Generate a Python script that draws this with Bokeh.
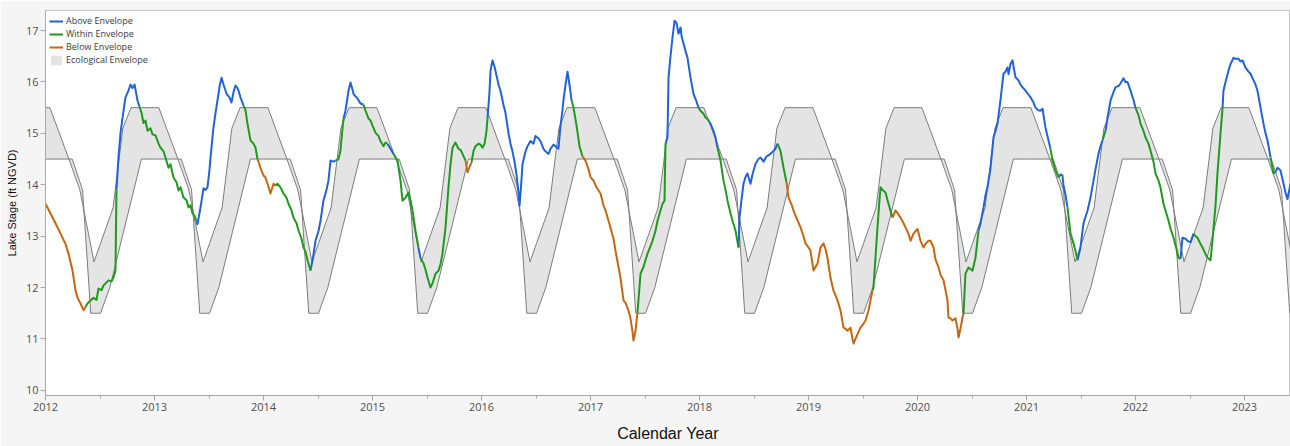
import math
import numpy as np
from bokeh.plotting import figure
from bokeh.models import FixedTicker, Range1d, Legend, LegendItem
from bokeh.embed import file_html
from bokeh.resources import INLINE

# ---------------- data ----------------
x_ticks = [2012, 2013, 2014, 2015, 2016, 2017, 2018, 2019, 2020, 2021, 2022, 2023]
y_ticks = [10, 11, 12, 13, 14, 15, 16, 17]

# Ecological envelope template: fraction of calendar year -> stage (ft NGVD)
env_upper_frac = [0.0, 0.04, 0.215, 0.315, 0.445, 0.62, 0.71, 0.785, 1.0]
env_upper_ft = [15.5, 15.5, 14.5, 13.9, 12.5, 13.55, 15.1, 15.5, 15.5]
env_lower_frac = [0.0, 0.245, 0.34, 0.415, 0.505, 0.59, 0.88, 1.0]
env_lower_ft = [14.5, 14.5, 13.9, 11.5, 11.5, 12.0, 14.5, 14.5]
env_years = list(range(2011, 2024))

# Lake stage (decimal year, ft NGVD) and status runs (A above, W within, B below)
t_2012 = [2012.000, 2012.046, 2012.092, 2012.138, 2012.183, 2012.211, 2012.248, 2012.275, 2012.294, 2012.321, 2012.349, 2012.367,
          2012.385, 2012.413, 2012.440, 2012.468, 2012.486, 2012.514, 2012.532, 2012.560, 2012.578, 2012.606, 2012.624, 2012.642, 2012.651,
          2012.670, 2012.688, 2012.716, 2012.734, 2012.761, 2012.780, 2012.798, 2012.817, 2012.844, 2012.862,
          2012.881, 2012.899, 2012.917, 2012.936, 2012.963, 2012.982]
v_2012 = [13.63, 13.44, 13.25, 13.05, 12.85, 12.66, 12.33, 11.94, 11.80, 11.69, 11.56, 11.62,
          11.69, 11.75, 11.80, 11.76, 11.98, 11.95, 12.04, 12.10, 12.14, 12.12, 12.20, 12.33, 13.90,
          14.55, 15.00, 15.44, 15.70, 15.83, 15.95, 15.88, 15.95, 15.64, 15.52,
          15.40, 15.20, 15.25, 15.05, 15.10, 14.98]
s_2012 = [("B", 12), ("W", 13), ("A", 10), ("W", 6)]

t_2013 = [2013.009, 2013.037, 2013.055, 2013.083, 2013.101, 2013.128, 2013.147, 2013.174, 2013.202, 2013.220, 2013.239, 2013.266,
          2013.294, 2013.312, 2013.330, 2013.349, 2013.367, 2013.385,
          2013.394, 2013.413, 2013.422, 2013.450, 2013.468, 2013.486, 2013.505, 2013.514, 2013.541, 2013.560, 2013.578, 2013.596,
          2013.615, 2013.633, 2013.661, 2013.688, 2013.706, 2013.725, 2013.743, 2013.761, 2013.771, 2013.789, 2013.817,
          2013.835, 2013.853, 2013.881, 2013.908, 2013.927, 2013.945, 2013.972]
v_2013 = [14.96, 14.80, 14.72, 14.65, 14.53, 14.33, 14.40, 14.14, 14.05, 13.89, 13.95, 13.75,
          13.70, 13.56, 13.60, 13.44, 13.40, 13.30,
          13.23, 13.45, 13.56, 13.93, 13.90, 13.95, 14.30, 14.53, 15.11, 15.40, 15.64, 15.90,
          16.08, 15.95, 15.77, 15.70, 15.60, 15.80, 15.93, 15.88, 15.83, 15.70, 15.54,
          15.45, 15.19, 14.86, 14.80, 14.72, 14.50, 14.33]
s_2013 = [("W", 18), ("A", 23), ("W", 6), ("B", 1)]

t_2014 = [2014.000, 2014.018, 2014.037, 2014.064, 2014.092, 2014.110,
          2014.128, 2014.156, 2014.183, 2014.211, 2014.229, 2014.257, 2014.275, 2014.303, 2014.321, 2014.349, 2014.367, 2014.385,
          2014.404, 2014.422, 2014.431,
          2014.450, 2014.477, 2014.505, 2014.523, 2014.550, 2014.578, 2014.596, 2014.615, 2014.642, 2014.661,
          2014.688, 2014.706, 2014.725, 2014.734,
          2014.752, 2014.771, 2014.780, 2014.798, 2014.817, 2014.826, 2014.844, 2014.862, 2014.890, 2014.917,
          2014.936, 2014.963, 2014.982]
v_2014 = [14.18, 14.14, 14.02, 13.83, 14.02, 13.98,
          14.02, 13.95, 13.83, 13.75, 13.63, 13.50, 13.36, 13.25, 13.11, 12.95, 12.78, 12.70, 12.53, 12.40, 12.33,
          12.53, 12.91, 13.10, 13.30, 13.69, 13.90, 14.08, 14.47, 14.45, 14.47,
          14.50, 14.66, 15.10, 15.29,
          15.44, 15.70, 15.83, 15.99, 15.85, 15.77, 15.72, 15.68, 15.58, 15.56,
          15.44, 15.29, 15.25]
s_2014 = [("B", 6), ("W", 15), ("A", 10), ("W", 4), ("A", 10), ("W", 3)]

t_2015 = [2015.000, 2015.028, 2015.055, 2015.073, 2015.101, 2015.119, 2015.138,
          2015.165, 2015.193,
          2015.229, 2015.257, 2015.275, 2015.303, 2015.330, 2015.349, 2015.367, 2015.394, 2015.422,
          2015.440,
          2015.468, 2015.486, 2015.505, 2015.532, 2015.550, 2015.578, 2015.606, 2015.624, 2015.642, 2015.670, 2015.697, 2015.716,
          2015.734, 2015.761, 2015.789, 2015.807, 2015.826, 2015.853,
          2015.872, 2015.890, 2015.908,
          2015.927, 2015.945, 2015.972, 2015.991]
v_2015 = [15.15, 15.01, 14.95, 14.85, 14.75, 14.82, 14.80,
          14.70, 14.60,
          14.47, 14.08, 13.69, 13.75, 13.85, 13.70, 13.50, 13.11, 12.78,
          12.58,
          12.47, 12.35, 12.19, 12.00, 12.08, 12.27, 12.33, 12.45, 12.66, 13.17, 13.95, 14.40,
          14.72, 14.82, 14.70, 14.68, 14.60, 14.47,
          14.24, 14.35, 14.43,
          14.66, 14.75, 14.80, 14.78]
s_2015 = [("W", 7), ("A", 2), ("W", 9), ("A", 1), ("W", 18), ("B", 3), ("W", 4)]

t_2016 = [2016.009, 2016.028, 2016.046, 2016.055,
          2016.073, 2016.083, 2016.101, 2016.119, 2016.138, 2016.156, 2016.174, 2016.202, 2016.220, 2016.248,
          2016.266, 2016.284, 2016.303, 2016.321, 2016.339, 2016.349, 2016.367, 2016.376, 2016.404, 2016.422,
          2016.450, 2016.477, 2016.495, 2016.523, 2016.541, 2016.569, 2016.587, 2016.615, 2016.633, 2016.661,
          2016.679, 2016.706, 2016.725, 2016.743, 2016.752, 2016.771, 2016.789, 2016.807, 2016.826,
          2016.844, 2016.872, 2016.899, 2016.927,
          2016.954, 2016.982]
v_2016 = [14.72, 14.80, 15.05, 15.29,
          15.80, 16.22, 16.42, 16.30, 16.12, 15.95, 15.83, 15.55, 15.40, 15.00,
          14.80, 14.65, 14.45, 14.20, 13.85, 13.60, 14.10, 14.40, 14.65, 14.75,
          14.85, 14.80, 14.95, 14.90, 14.85, 14.70, 14.65, 14.60, 14.70, 14.78,
          14.75, 14.70, 15.15, 15.45, 15.65, 15.95, 16.20, 15.95, 15.65,
          15.50, 15.15, 14.75, 14.55,
          14.47, 14.30]
s_2016 = [("W", 4), ("A", 39), ("W", 4), ("B", 2)]

t_2017 = [2017.000, 2017.028, 2017.055, 2017.092, 2017.119, 2017.138, 2017.165, 2017.183, 2017.211, 2017.229,
          2017.257, 2017.275, 2017.303, 2017.321, 2017.349, 2017.367, 2017.385, 2017.394, 2017.413, 2017.431,
          2017.459, 2017.486, 2017.523, 2017.550, 2017.569, 2017.596, 2017.615, 2017.642, 2017.661, 2017.679, 2017.688,
          2017.706, 2017.716, 2017.734, 2017.752, 2017.771, 2017.789, 2017.807, 2017.826, 2017.835, 2017.853,
          2017.872, 2017.890, 2017.917, 2017.945, 2017.972, 2017.991]
v_2017 = [14.15, 14.08, 13.95, 13.83, 13.60, 13.50, 13.30, 13.17, 12.95, 12.72,
          12.40, 12.19, 11.75, 11.70, 11.55, 11.40, 11.15, 10.97, 11.16, 11.51,
          12.27, 12.40, 12.66, 12.80, 12.91, 13.10, 13.30, 13.50, 13.63, 13.69, 14.80,
          14.92, 16.09, 16.50, 16.86, 17.19, 17.15, 16.94, 17.06, 16.90, 16.75,
          16.60, 16.47, 16.09, 15.77, 15.62, 15.50]
s_2017 = [("B", 20), ("W", 11), ("A", 16)]

t_2018 = [2018.009, 2018.037, 2018.055, 2018.083,
          2018.101, 2018.128, 2018.147, 2018.165,
          2018.193, 2018.220, 2018.239, 2018.257, 2018.284, 2018.303, 2018.330, 2018.358,
          2018.367, 2018.385, 2018.404, 2018.422, 2018.440, 2018.468, 2018.486, 2018.514, 2018.541, 2018.560,
          2018.587, 2018.615, 2018.633, 2018.661, 2018.679, 2018.697, 2018.716,
          2018.743, 2018.771, 2018.798,
          2018.817, 2018.844, 2018.862, 2018.890, 2018.927, 2018.954, 2018.972]
v_2018 = [15.44, 15.38, 15.31, 15.25,
          15.19, 15.05, 14.92, 14.72,
          14.47, 14.08, 13.90, 13.69, 13.45, 13.30, 13.11, 12.78,
          13.36, 13.70, 14.02, 14.15, 14.22, 14.02, 14.20, 14.41, 14.50, 14.53,
          14.45, 14.55, 14.57, 14.62, 14.66, 14.70, 14.80,
          14.66, 14.33, 14.05,
          13.75, 13.62, 13.50, 13.35, 13.17, 13.00, 12.86]
s_2018 = [("W", 4), ("A", 4), ("W", 8), ("A", 17), ("W", 3), ("B", 7)]

t_2019 = [2019.000, 2019.018, 2019.037, 2019.046, 2019.064, 2019.083, 2019.110, 2019.138, 2019.156, 2019.174,
          2019.202, 2019.229, 2019.248, 2019.266, 2019.294, 2019.321, 2019.339, 2019.358, 2019.385, 2019.404,
          2019.413, 2019.431, 2019.450, 2019.477, 2019.505, 2019.523, 2019.550, 2019.569, 2019.587,
          2019.596, 2019.615, 2019.633, 2019.651, 2019.661, 2019.679, 2019.706, 2019.734, 2019.752, 2019.771,
          2019.798, 2019.817, 2019.844, 2019.872, 2019.890, 2019.917, 2019.936, 2019.963, 2019.982]
v_2019 = [12.78, 12.72, 12.45, 12.33, 12.40, 12.47, 12.78, 12.86, 12.75, 12.58,
          12.19, 11.94, 11.85, 11.75, 11.55, 11.22, 11.20, 11.16, 11.22, 11.00,
          10.91, 11.00, 11.10, 11.22, 11.30, 11.36, 11.55, 11.75, 11.94,
          12.00, 12.60, 13.17, 13.70, 13.95, 13.90, 13.85, 13.63, 13.50, 13.36,
          13.50, 13.45, 13.36, 13.25, 13.17, 13.05, 12.91, 13.05, 13.10]
s_2019 = [("B", 29), ("W", 10), ("B", 9)]

t_2020 = [2020.000, 2020.028, 2020.055, 2020.073, 2020.101, 2020.119, 2020.147, 2020.165, 2020.193, 2020.211,
          2020.239, 2020.257, 2020.275, 2020.284, 2020.303, 2020.321, 2020.349, 2020.367, 2020.376, 2020.394,
          2020.413, 2020.422,
          2020.440, 2020.468, 2020.486, 2020.505, 2020.532, 2020.560,
          2020.578, 2020.606, 2020.624, 2020.642, 2020.670, 2020.697, 2020.716, 2020.734, 2020.761, 2020.789,
          2020.807, 2020.826, 2020.835, 2020.853, 2020.872, 2020.881, 2020.899, 2020.927, 2020.945, 2020.963,
          2020.991]
v_2020 = [13.14, 12.91, 12.78, 12.85, 12.91, 12.91, 12.78, 12.55, 12.39, 12.25,
          12.14, 11.95, 11.75, 11.42, 11.40, 11.36, 11.40, 11.20, 11.03, 11.20,
          11.42, 11.49,
          12.27, 12.39, 12.36, 12.33, 12.58, 13.11,
          13.25, 13.56, 13.80, 13.95, 14.33, 14.92, 15.05, 15.19, 15.64, 16.16,
          16.20, 16.28, 16.15, 16.35, 16.42, 16.30, 16.09, 16.03, 15.95, 15.90,
          15.83]
s_2020 = [("B", 22), ("W", 6), ("A", 21)]

t_2021 = [2021.009, 2021.037, 2021.064, 2021.083, 2021.110, 2021.128, 2021.147, 2021.174, 2021.202, 2021.220,
          2021.239, 2021.266, 2021.294,
          2021.312, 2021.330, 2021.339, 2021.358, 2021.376,
          2021.404, 2021.431, 2021.450, 2021.468,
          2021.495, 2021.523, 2021.560, 2021.587, 2021.615, 2021.633, 2021.661, 2021.679, 2021.697,
          2021.725,
          2021.743, 2021.771, 2021.798, 2021.817, 2021.844, 2021.862, 2021.890, 2021.908, 2021.927, 2021.954,
          2021.982]
v_2021 = [15.78, 15.70, 15.60, 15.50, 15.45, 15.44, 15.48, 15.11, 14.86, 14.70,
          14.47, 14.28, 14.14,
          14.20, 14.18, 13.99, 13.80, 13.56,
          13.05, 12.86, 12.70, 12.53,
          12.78, 13.25, 13.50, 13.75, 14.08, 14.30, 14.61, 14.75, 14.86,
          15.05,
          15.30, 15.64, 15.80, 15.90, 15.92, 15.97, 16.07, 16.00, 16.00, 15.83,
          15.65]
s_2021 = [("A", 10), ("W", 3), ("A", 5), ("W", 4), ("A", 9), ("W", 1), ("A", 11)]

t_2022 = [2022.000,
          2022.028, 2022.046, 2022.073, 2022.092, 2022.119, 2022.138, 2022.165, 2022.183, 2022.211, 2022.229,
          2022.257, 2022.275, 2022.303, 2022.321, 2022.349, 2022.376, 2022.394, 2022.413,
          2022.431, 2022.459, 2022.477, 2022.505, 2022.532,
          2022.550, 2022.569, 2022.596, 2022.615, 2022.642, 2022.661, 2022.688, 2022.706, 2022.734, 2022.752,
          2022.780, 2022.798,
          2022.807, 2022.826, 2022.853, 2022.872, 2022.899, 2022.917, 2022.945, 2022.963, 2022.982]
v_2022 = [15.50,
          15.35, 15.19, 15.05, 14.92, 14.80, 14.66, 14.45, 14.22, 14.08, 13.95,
          13.63, 13.50, 13.30, 13.15, 12.97, 12.75, 12.58, 12.56,
          12.97, 12.95, 12.91, 12.88, 13.05,
          13.00, 12.97, 12.85, 12.78, 12.65, 12.58, 12.53, 12.91, 13.60, 14.22,
          15.00, 15.48,
          15.83, 16.00, 16.22, 16.35, 16.47, 16.45, 16.45, 16.40, 16.42]
s_2022 = [("A", 1), ("W", 18), ("A", 5), ("W", 12), ("A", 9)]

t_2023 = [2023.009, 2023.037, 2023.055, 2023.083, 2023.101, 2023.119, 2023.147, 2023.174, 2023.193, 2023.211,
          2023.239, 2023.266,
          2023.284, 2023.303, 2023.330, 2023.358, 2023.376, 2023.394, 2023.422]
v_2023 = [16.28, 16.20, 16.16, 16.03, 15.95, 15.83, 15.50, 15.19, 15.00, 14.86,
          14.53, 14.22,
          14.25, 14.33, 14.28, 14.02, 13.85, 13.72, 14.02]
s_2023 = [("A", 11), ("W", 1), ("A", 7)]

# ---------------- assemble ----------------
all_t, all_v, all_s = [], [], []
for t_, v_, s_ in [(t_2012, v_2012, s_2012), (t_2013, v_2013, s_2013), (t_2014, v_2014, s_2014),
                   (t_2015, v_2015, s_2015), (t_2016, v_2016, s_2016), (t_2017, v_2017, s_2017),
                   (t_2018, v_2018, s_2018), (t_2019, v_2019, s_2019), (t_2020, v_2020, s_2020),
                   (t_2021, v_2021, s_2021), (t_2022, v_2022, s_2022), (t_2023, v_2023, s_2023)]:
    codes = []
    for c, k in s_:
        codes.extend([c] * k)
    m = min(len(t_), len(v_))
    codes = (codes + [codes[-1]] * m)[:m]
    all_t.extend(t_[:m]); all_v.extend(v_[:m]); all_s.extend(codes)

def status_path(code):
    xs, ys = [], []
    last = None
    for i in range(1, len(all_t)):
        if all_s[i] != code:
            continue
        if last != i - 1:
            if xs:
                xs.append(float("nan")); ys.append(float("nan"))
            xs.append(all_t[i - 1]); ys.append(all_v[i - 1])
        xs.append(all_t[i]); ys.append(all_v[i])
        last = i
    return xs, ys

fr = sorted(set(env_upper_frac) | set(env_lower_frac))
ex, eu, el = [], [], []
for yr in env_years:
    for f in fr:
        ex.append(yr + f)
        eu.append(float(np.interp(f, env_upper_frac, env_upper_ft)))
        el.append(float(np.interp(f, env_lower_frac, env_lower_ft)))

# ---------------- figure ----------------
p = figure(width=1290, height=446, output_backend="svg", toolbar_location=None,
           x_range=Range1d(2012.0, 2023.422), y_range=Range1d(9.9, 17.39),
           min_border_left=45, min_border_right=0, min_border_top=10, min_border_bottom=51)
p.background_fill_color = "white"
p.border_fill_color = "#f5f5f5"
p.outline_line_color = "#c4c4c4"
p.grid.visible = False

env_r = p.varea(x=ex, y1=el, y2=eu, fill_color="#e4e4e4")
p.line(ex, eu, line_color="#7c7c7c", line_width=1)
p.line(ex, el, line_color="#7c7c7c", line_width=1)

colors = {"A": "#2262d8", "W": "#1f9a1f", "B": "#c8650f"}
rends = {}
for code in ["A", "W", "B"]:
    xs, ys = status_path(code)
    rends[code] = p.line(xs, ys, line_color=colors[code], line_width=2, line_join="round")

legend = Legend(items=[LegendItem(label="Above Envelope", renderers=[rends["A"]]),
                       LegendItem(label="Within Envelope", renderers=[rends["W"]]),
                       LegendItem(label="Below Envelope", renderers=[rends["B"]]),
                       LegendItem(label="Ecological Envelope", renderers=[env_r])],
                location="top_left")
legend.margin = 0
legend.padding = 4
legend.spacing = 0
legend.label_height = 12
legend.glyph_height = 12
legend.glyph_width = 14
legend.label_standoff = 3
legend.label_text_font = "Open Sans"
legend.label_text_font_size = "9px"
legend.label_text_color = "#3a3a3a"
legend.border_line_alpha = 0
legend.background_fill_alpha = 0
p.add_layout(legend)

p.xaxis.ticker = FixedTicker(ticks=x_ticks, minor_ticks=[y + 0.5 for y in range(2011, 2024)])
p.yaxis.ticker = FixedTicker(ticks=y_ticks, minor_ticks=[])
for ax in (p.xaxis[0], p.yaxis[0]):
    ax.axis_line_color = "#a8a8a8"
    ax.major_tick_line_color = "#a8a8a8"
    ax.minor_tick_line_color = "#a8a8a8"
    ax.major_tick_in = 0
    ax.major_tick_out = 5
    ax.minor_tick_in = 0
    ax.minor_tick_out = 3
    ax.major_label_text_font = "Open Sans"
    ax.major_label_text_font_size = "11px"
    ax.major_label_text_color = "#505050"
    ax.major_label_standoff = 2
    ax.axis_label_text_font = "Liberation Sans"
    ax.axis_label_text_font_style = "normal"
    ax.axis_label_text_color = "#111111"

p.xaxis.axis_label = "Calendar Year"
p.xaxis.axis_label_text_font_size = "16px"
p.xaxis.axis_label_standoff = 11
p.yaxis.axis_label = "Lake Stage (ft NGVD)"
p.yaxis.axis_label_text_font_size = "11px"
p.yaxis.axis_label_standoff = 5

open("out.html", "w").write(file_html(p, INLINE))
